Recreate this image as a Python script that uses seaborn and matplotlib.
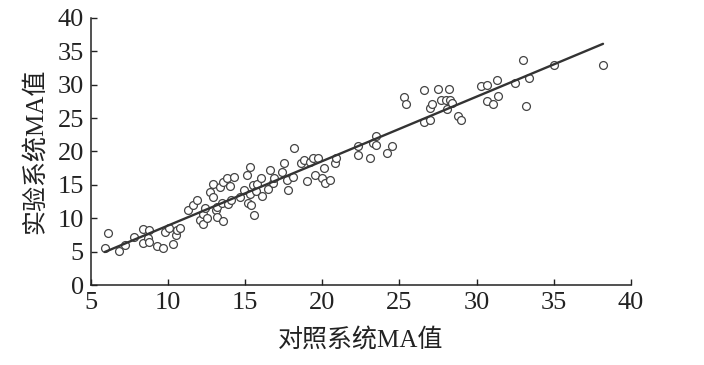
import numpy as np
import pandas as pd
import matplotlib
matplotlib.use("Agg")
import matplotlib.pyplot as plt
import seaborn as sns

# 对照系统 / 实验系统 MA 值
control_ma = [5.9, 6.1, 6.8, 7.2, 7.8, 8.4, 8.4, 8.7, 8.8, 8.8, 9.3, 9.7, 9.8, 10.1, 10.3,
              10.5, 10.6, 10.8, 11.3, 11.6, 11.9, 12.1, 12.3, 12.3, 12.4, 12.5, 12.7, 12.9,
              12.9, 13.1, 13.2, 13.2, 13.4, 13.5, 13.6, 13.6, 13.8, 13.9, 14.0, 14.1, 14.3,
              14.7, 14.9, 15.1, 15.2, 15.3, 15.3, 15.4, 15.5, 15.6, 15.7, 15.8, 16.0, 16.1,
              16.5, 16.6, 16.8, 16.9, 17.4, 17.5, 17.7, 17.8, 18.1, 18.2, 18.6, 18.8, 19.0,
              19.2, 19.4, 19.5, 19.7, 20.0, 20.1, 20.2, 20.5, 20.8, 20.9,
              22.3, 22.3, 23.1, 23.3, 23.5, 23.5, 24.2, 24.5, 25.3, 25.4, 26.6, 26.6, 27.0,
              27.0, 27.1, 27.5, 27.7, 28.0, 28.1, 28.2, 28.3, 28.4, 28.8, 29.0, 30.3, 30.7,
              30.7, 31.1, 31.3, 31.4, 32.5, 33.0, 33.2, 33.4, 35.0, 38.2]
test_ma = [5.5, 7.8, 5.1, 6.0, 7.2, 8.4, 6.3, 7.0, 8.2, 6.4, 5.8, 5.5, 7.9, 8.5, 6.1,
           7.5, 8.2, 8.5, 11.2, 12.0, 12.7, 9.7, 10.6, 9.1, 11.5, 10.0, 13.9, 15.1,
           13.2, 11.2, 11.7, 10.2, 14.7, 12.3, 9.6, 15.4, 16.0, 12.1, 14.8, 12.7, 16.2,
           13.2, 14.2, 16.5, 12.3, 13.6, 17.7, 12.0, 15.0, 10.5, 14.1, 15.1, 16.0, 13.3,
           14.4, 17.2, 15.3, 16.0, 16.9, 18.3, 15.7, 14.2, 16.2, 20.5, 18.3, 18.7, 15.6,
           18.4, 19.0, 16.5, 19.0, 16.0, 17.5, 15.3, 15.7, 18.3, 19.0,
           20.8, 19.5, 19.0, 21.3, 22.3, 21.0, 19.8, 20.8, 28.2, 27.1, 29.2, 24.4, 26.5,
           24.7, 27.1, 29.4, 27.7, 27.7, 26.4, 29.4, 27.7, 27.3, 25.3, 24.7, 29.8, 30.0,
           27.6, 27.1, 30.7, 28.3, 30.3, 33.7, 26.8, 31.0, 33.0, 33.0]

x_ticks = [5, 10, 15, 20, 25, 30, 35, 40]
y_ticks = [0, 5, 10, 15, 20, 25, 30, 35, 40]

df = pd.DataFrame({"control": control_ma, "test": test_ma})

sns.set_style("ticks")
plt.rcParams["font.family"] = ["Liberation Serif", "Noto Sans CJK SC"]

fig = plt.figure(figsize=(7.04, 3.65), dpi=100)
ax = fig.add_axes([0.129, 0.219, 0.767, 0.732])

sns.regplot(data=df, x="control", y="test", ax=ax, ci=None, truncate=True,
            scatter_kws=dict(s=32, facecolors="white", edgecolors="#444444", linewidths=0.9, alpha=1),
            line_kws=dict(color="#333333", lw=1.7))

ax.set_xlim(5, 40)
ax.set_ylim(0, 40)
ax.set_xticks(x_ticks)
ax.set_yticks(y_ticks)
ax.tick_params(direction="in", length=4, width=1, colors="#222222", labelsize=19, pad=5)
for s in ["top", "right"]:
    ax.spines[s].set_visible(False)
for s in ["left", "bottom"]:
    ax.spines[s].set_linewidth(1.1)
    ax.spines[s].set_color("#222222")

ax.set_xlabel("对照系统MA值", fontsize=18, color="#222222", labelpad=10)
ax.set_ylabel("实验系统MA值", fontsize=18, color="#222222", labelpad=8)

fig.savefig("out.png", dpi=100, facecolor="white")
